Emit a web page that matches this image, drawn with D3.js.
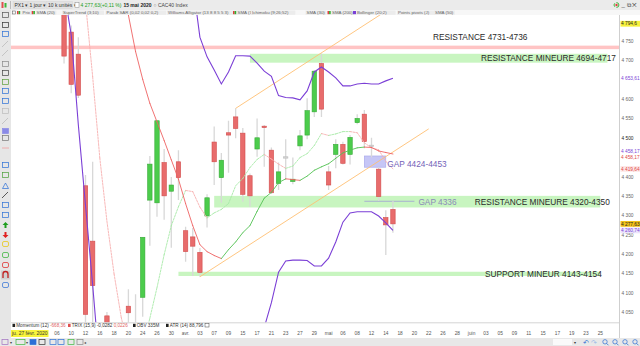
<!DOCTYPE html>
<html>
<head>
<meta charset="utf-8">
<title>CAC40 Index</title>
<script src="https://cdn.jsdelivr.net/npm/d3@7/dist/d3.min.js"></script>
<style>
  body { margin: 0; background: #fff; }
  svg { display: block; font-family: "Liberation Sans", Arial, sans-serif; }
  .pre { white-space: pre; }
</style>
</head>
<body>
<svg id="chart" width="640" height="346"></svg>
<script>
// ---- values (CAC40 daily, 27 Feb -> 15 May 2020) ----
const firstSession = '2020-02-27';
const lastSession = '2020-06-29';
const holidays = ['2020-04-10', '2020-04-13', '2020-05-01'];

const candleDates = [
  '2020-03-09', '2020-03-10', '2020-03-11', '2020-03-12', '2020-03-13',
  '2020-03-16', '2020-03-17', '2020-03-18', '2020-03-19', '2020-03-20',
  '2020-03-23', '2020-03-24', '2020-03-25', '2020-03-26', '2020-03-27',
  '2020-03-30', '2020-03-31', '2020-04-01', '2020-04-02', '2020-04-03',
  '2020-04-06', '2020-04-07', '2020-04-08', '2020-04-09',
  '2020-04-14', '2020-04-15', '2020-04-16', '2020-04-17',
  '2020-04-20', '2020-04-21', '2020-04-22', '2020-04-23', '2020-04-24',
  '2020-04-27', '2020-04-28', '2020-04-29', '2020-04-30',
  '2020-05-04', '2020-05-05', '2020-05-06', '2020-05-07', '2020-05-08',
  '2020-05-11', '2020-05-12', '2020-05-13', '2020-05-14', '2020-05-15'
];
const opens = [
  4900, 4773, 4716, 4376, 4233,
  3950, 4040, 3920, 3780, 4065,
  3960, 4088, 4339, 4332, 4436,
  4362, 4438, 4260, 4244, 4204,
  4298, 4489, 4397, 4513,
  4554, 4512, 4402, 4471,
  4530, 4468, 4382, 4451, 4387,
  4479, 4507, 4567, 4692,
  4412, 4457, 4483, 4457, 4539,
  4561, 4481, 4419, 4294, 4315
];
const highs = [
  4950, 4790, 4760, 4404, 4438,
  4000, 4050, 4010, 3990, 4109,
  4096, 4243, 4453, 4544, 4471,
  4399, 4468, 4270, 4267, 4215,
  4354, 4529, 4461, 4544,
  4576, 4525, 4408, 4550,
  4533, 4475, 4436, 4496, 4449,
  4520, 4602, 4675, 4718,
  4427, 4496, 4490, 4507, 4561,
  4572, 4500, 4424, 4313, 4337
];
const lows = [
  4692, 4615, 4603, 3952, 3900,
  3630, 3760, 3730, 3690, 3900,
  3800, 4038, 4221, 4296, 4288,
  4216, 4339, 4180, 4143, 4141,
  4268, 4378, 4332, 4410,
  4499, 4335, 4322, 4451,
  4425, 4355, 4365, 4391, 4380,
  4468, 4496, 4554, 4554,
  4365, 4421, 4431, 4431, 4535,
  4473, 4450, 4337, 4197, 4255
];
const closes = [
  4711, 4638, 4610, 4044, 4118,
  3881, 3991, 3754, 3855, 4048,
  3914, 4243, 4432, 4544, 4350,
  4378, 4397, 4206, 4220, 4152,
  4345, 4438, 4442, 4507,
  4524, 4354, 4350, 4500,
  4527, 4358, 4412, 4451, 4393,
  4505, 4570, 4672, 4574,
  4378, 4483, 4434, 4501, 4550,
  4490, 4481, 4348, 4275, 4277.63
];
// SMA (7)
const sma7 = [
  5251, 5155, 5043, 4850, 4658,
  4448, 4284, 4148, 4036, 3956,
  3937, 3955, 4034, 4113, 4198,
  4273, 4322, 4364, 4361, 4321,
  4293, 4306, 4315, 4330,
  4376, 4395, 4423, 4444,
  4457, 4445, 4432, 4421, 4427,
  4449, 4459, 4480, 4511,
  4506, 4510, 4516, 4516, 4513,
  4487, 4474, 4469, 4439, 4419.64
];
// SMA (20)
const sma20 = [
  5600, 5520, 5440, 5330, 5230,
  5160, 5090, 5026, 4916, 4817,
  4723, 4651, 4589, 4541, 4493,
  4443, 4393, 4330, 4273, 4224,
  4206, 4196, 4188, 4211,
  4231, 4255, 4273, 4310,
  4344, 4359, 4384, 4394, 4392,
  4390, 4401, 4416, 4425,
  4433, 4447, 4461, 4468, 4474,
  4476, 4475, 4466, 4462, 4458.17
];
// Bollinger (20;2)
const bollUpper = [
  6200, 6250, 6300, 6400, 6450,
  6500, 6520, 6530, 6480, 6400,
  6300, 6200, 6080, 5950, 5800,
  5600, 5300, 5050, 4900, 4760,
  4709, 4675, 4639, 4670,
  4712, 4712, 4711, 4693,
  4672, 4659, 4609, 4604, 4603,
  4598, 4621, 4670, 4683,
  4670, 4655, 4634, 4634, 4639,
  4641, 4639, 4639, 4647, 4653.61
];
const bollLower = [
  4880, 4766, 4533, 4326, 4120,
  3900, 3700, 3500, 3420, 3400,
  3360, 3350, 3370, 3400, 3430,
  3460, 3500, 3560, 3600, 3640,
  3690, 3730, 3760, 3790,
  3820, 3860, 3900, 3950,
  4010, 4074, 4153, 4182, 4184,
  4184, 4183, 4169, 4169,
  4189, 4231, 4282, 4306, 4309,
  4309, 4309, 4298, 4280, 4260.74
];

// channel lines (orange)
const channelUpperDates = ['2020-04-14', '2020-05-15'];
const channelUpper = [4576, 4839];
const channelLowerDates = ['2020-04-03', '2020-05-22'];
const channelLower = [4141, 4523];

// zones
const zoneLow = [4694, 4320, 4143];
const zoneHigh = [4717, 4350, 4154];
const zoneFrom = ['2020-04-16', '2020-04-07', '2020-03-31'];
const zoneTo = ['2020-06-26', '2020-06-25', '2020-06-25'];
const zoneLabels = ['RESISTANCE MINEURE 4694-4717', 'RESISTANCE MINEURE 4320-4350', 'SUPPORT  MINEUR 4143-4154'];
const resistance = [4731, 4736];
const gapBox = [4424, 4453];
const gapBoxDates = ['2020-05-11', '2020-05-14'];
const gapLine = 4336;
const gapLineDates = ['2020-05-11', '2020-05-20'];

// axes
const yTicks = [4050, 4100, 4150, 4200, 4250, 4300, 4350, 4400, 4500, 4550, 4600, 4700, 4750];
const tickDates = [
  '2020-03-06', '2020-03-10', '2020-03-12', '2020-03-16', '2020-03-18', '2020-03-20', '2020-03-24',
  '2020-03-26', '2020-03-30', '2020-04-01', '2020-04-03', '2020-04-07', '2020-04-09', '2020-04-15',
  '2020-04-17', '2020-04-21', '2020-04-23', '2020-04-27', '2020-04-29', '2020-05-04', '2020-05-06',
  '2020-05-08', '2020-05-12', '2020-05-14', '2020-05-18', '2020-05-20', '2020-05-22', '2020-05-26',
  '2020-05-28', '2020-06-01', '2020-06-03', '2020-06-05', '2020-06-09', '2020-06-11', '2020-06-15',
  '2020-06-17', '2020-06-19', '2020-06-23', '2020-06-25'
];
const tickLabels = [
  '06', '10', '12', '16', '18', '20', '24', '26', '30', 'avr.', '03', '07', '09', '15', '17', '21', '23',
  '27', '29', 'mai', '06', '08', '12', '14', '18', '20', '22', '26', '28', 'juin', '03', '05', '09', '11',
  '15', '17', '19', '23', '25'
];
const tagValues = [4794.6, 4653.61, 4458.17, 4458.17, 4419.64, 4277.63, 4260.74];
const tagTexts = ['4 794,6', '4 653,61', '4 458,17', '4 458,17', '4 419,64', '4 277,63', '4 260,74'];

const legendTop = ['Prix', 'SMA (20)', 'SuperTrend (3;10)', 'Parab SAR (0,02 0,02 0,2)', 'Williams Alligator (13 8 8 5 5 3)',
  'SMA (7)', 'Ichimoku (9;26;52)', 'SMA (30)', 'SMA (200)', 'Bollinger (20;2)', 'Points pivots (J)', 'SMA (50)'];

// ---- layout ----
const svg = d3.select('#chart');
const plot = { left: 11, right: 619, top: 15, bottom: 322.5 };
const purple = '#7b3fd6';

const sessions = d3.utcDay.range(new Date(firstSession), d3.utcDay.offset(new Date(lastSession), 1))
  .filter(d => d.getUTCDay() % 6 !== 0)
  .map(d3.utcFormat('%Y-%m-%d'))
  .filter(s => !holidays.includes(s));

const step = 7.15;
const x = d3.scalePoint().domain(sessions).range([14, 14 + (sessions.length - 1) * step]);
const y = d3.scaleLinear().domain([4050, 4750]).range([312, 41]);
const fr = d3.formatLocale({ decimal: ',', thousands: ' ', grouping: [3], currency: ['', ''] });

svg.append('rect').attr('width', 640).attr('height', 346).attr('fill', '#fff');

svg.append('clipPath').attr('id', 'clip').append('rect')
  .attr('x', plot.left).attr('y', plot.top)
  .attr('width', plot.right - plot.left).attr('height', plot.bottom - plot.top);

const g = svg.append('g').attr('clip-path', 'url(#clip)');

// resistance (pink)
g.append('rect')
  .attr('x', plot.left).attr('width', plot.right - plot.left)
  .attr('y', y(resistance[1]) - 0.8).attr('height', y(resistance[0]) - y(resistance[1]) + 1.6)
  .attr('fill', '#ffc4c4');

// zones (green)
zoneLow.forEach((lo, i) => {
  g.append('rect')
    .attr('x', x(zoneFrom[i])).attr('width', x(zoneTo[i]) - x(zoneFrom[i]))
    .attr('y', y(zoneHigh[i])).attr('height', y(lo) - y(zoneHigh[i]))
    .attr('fill', '#c8f5c0');
});

// gap box
g.append('rect')
  .attr('x', x(gapBoxDates[0])).attr('width', x(gapBoxDates[1]) - x(gapBoxDates[0]))
  .attr('y', y(gapBox[1])).attr('height', y(gapBox[0]) - y(gapBox[1]))
  .attr('fill', '#c6c6f6').attr('stroke', '#a4a4ea').attr('stroke-width', 0.6);

g.append('line')
  .attr('x1', x(gapLineDates[0])).attr('x2', x(gapLineDates[1]))
  .attr('y1', y(gapLine)).attr('y2', y(gapLine))
  .attr('stroke', '#a0a0d4').attr('stroke-width', 0.8);

// candles
const candles = candleDates.map((d, i) => ({ date: d, o: opens[i], h: highs[i], l: lows[i], c: closes[i] }));
g.append('g').selectAll('line').data(candles).join('line')
  .attr('x1', d => x(d.date)).attr('x2', d => x(d.date))
  .attr('y1', d => y(d.h)).attr('y2', d => y(d.l))
  .attr('stroke', '#d8d8d8').attr('stroke-width', 1.3);
g.append('g').selectAll('rect').data(candles).join('rect')
  .attr('x', d => x(d.date) - 2.2).attr('width', 4.4)
  .attr('y', d => y(Math.max(d.o, d.c)))
  .attr('height', d => Math.max(1.4, Math.abs(y(d.o) - y(d.c))))
  .attr('fill', d => d.c > d.o ? '#4ccc4c' : d.c < d.o ? '#e86c6c' : '#d2d2d2')
  .attr('stroke', d => d.c > d.o ? '#36aa36' : d.c < d.o ? '#d24c4c' : '#bdbdbd')
  .attr('stroke-width', 0.6);

// orange channel
[[channelUpperDates, channelUpper], [channelLowerDates, channelLower]].forEach(([ds, vs]) => {
  g.append('line')
    .attr('x1', x(ds[0])).attr('y1', y(vs[0]))
    .attr('x2', x(ds[1])).attr('y2', y(vs[1]))
    .attr('stroke', '#ffbf73').attr('stroke-width', 0.9);
});

// lines coloured by slope
function slopeLine(values, up, down, width, dash) {
  const pts = candleDates.map((d, i) => [x(d), y(values[i]), values[i]]);
  g.append('g').selectAll('line').data(d3.pairs(pts)).join('line')
    .attr('x1', d => d[0][0]).attr('y1', d => d[0][1])
    .attr('x2', d => d[1][0]).attr('y2', d => d[1][1])
    .attr('stroke', d => d[1][2] >= d[0][2] ? up : down)
    .attr('stroke-width', width)
    .attr('stroke-dasharray', dash)
    .attr('stroke-linecap', 'round');
}
slopeLine(sma7, '#a8eaa8', '#f7b0b0', 0.9, '2,1.2');
slopeLine(sma20, '#52c252', '#ee6262', 0.9, null);

const line = d3.line().x((d, i) => x(candleDates[i])).y(d => y(d));
[bollUpper, bollLower].forEach(vals => {
  g.append('path').datum(vals).attr('d', line)
    .attr('fill', 'none').attr('stroke', purple).attr('stroke-width', 1.1);
});

// annotation texts
const notes = svg.append('g').attr('font-size', 8.3).attr('class', 'pre');
notes.append('text').attr('x', 433).attr('y', 40).attr('fill', '#2a2a2a').text('RESISTANCE  4731-4736');
const zoneDx = [8.5, 9.5, 1.5];
zoneLabels.forEach((t, i) => {
  notes.append('text')
    .attr('x', x(zoneTo[i]) + zoneDx[i]).attr('y', y((zoneLow[i] + zoneHigh[i]) / 2) + 3)
    .attr('text-anchor', 'end').attr('fill', '#2a2a2a').text(t);
});
notes.append('text').attr('x', x(gapBoxDates[1]) + 1.5).attr('y', y((gapBox[0] + gapBox[1]) / 2) + 5)
  .attr('fill', '#7462b8').text(`GAP ${gapBox[0]}-${gapBox[1]}`);
notes.append('text').attr('x', x(gapLineDates[1]) + 4).attr('y', y(gapLine) + 3.8)
  .attr('fill', '#8a8ab8').text(`GAP ${gapLine}`);

// ---- right price axis ----
svg.append('line').attr('x1', plot.right + 0.5).attr('x2', plot.right + 0.5)
  .attr('y1', 10).attr('y2', 338).attr('stroke', '#cfcfcf');
const ax = svg.append('g').attr('transform', `translate(${plot.right + 0.5},0)`)
  .call(d3.axisRight(y).tickValues(yTicks).tickSize(0).tickPadding(2).tickFormat(fr.format(',')));
ax.select('.domain').remove();
ax.selectAll('text').attr('font-size', 4.8).attr('fill', '#666').attr('font-family', null);
ax.selectAll('.tick').filter(d => d === 4500).select('text').attr('fill', '#222');

// price tags
const tagColor = ['#222', purple, purple, '#e04848', '#e04848', '#222', purple];
const tagFill = ['#f6f13c', null, null, null, '#fde6e6', '#f2c21a', '#ebe4fb'];
let lastY = -10;
tagValues.forEach((v, i) => {
  let ty = y(v);
  if (ty < lastY + 5.6) ty = lastY + 5.6;
  if (i === 2) ty -= 2.4;
  lastY = ty;
  if (tagFill[i]) {
    svg.append('rect').attr('x', plot.right + 1.5).attr('y', ty - 2.9).attr('width', 20).attr('height', 5.8)
      .attr('fill', tagFill[i]);
  }
  svg.append('text').attr('x', plot.right + 2).attr('y', ty + 1.7)
    .attr('font-size', 4.8).attr('fill', tagColor[i]).text(tagTexts[i]);
});

// ---- bottom indicator legend & date axis ----
svg.append('line').attr('x1', plot.left).attr('x2', plot.right).attr('y1', plot.bottom + 0.3).attr('y2', plot.bottom + 0.3)
  .attr('stroke', '#d4d4d4');
const ind = svg.append('g').attr('font-size', 4.6).attr('fill', '#333');
const indItems = [
  [12.5, '#222', [['Momentum (12) ', '#333'], ['-668,36', '#e06464']]],
  [68, '#e05050', [['TRIX (15,9) -0,0282 ', '#333'], ['0,0226', '#e06464']]],
  [133, '#222', [['OBV 335M', '#333']]],
  [166, '#222', [['ATR (14) 88,796', '#333']]]
];
indItems.forEach(([ix, sq, parts]) => {
  ind.append('rect').attr('x', ix).attr('y', 323.8).attr('width', 2.6).attr('height', 3.2).attr('fill', sq);
  const t = ind.append('text').attr('x', ix + 3.8).attr('y', 327.3).attr('class', 'pre');
  parts.forEach(([s, c]) => t.append('tspan').attr('fill', c).text(s));
});
ind.append('rect').attr('x', 205).attr('y', 323.6).attr('width', 4).attr('height', 3.4)
  .attr('fill', '#fff').attr('stroke', '#444').attr('stroke-width', 0.5);

svg.append('rect').attr('x', 11).attr('y', 330).attr('width', 37.5).attr('height', 7).attr('fill', '#f8f43c');
svg.append('text').attr('x', 12).attr('y', 335.2).attr('font-size', 5).attr('fill', '#333')
  .text('ju. 27 févr. 2020');
svg.append('text').attr('x', 2).attr('y', 335).attr('font-size', 5).attr('fill', '#333').text('•••');
svg.append('g').selectAll('text').data(tickDates).join('text')
  .attr('x', d => x(d)).attr('y', 335.2).attr('text-anchor', 'middle')
  .attr('font-size', 4.8).attr('fill', '#555')
  .text((d, i) => tickLabels[i]);

// ---- window chrome ----
svg.append('rect').attr('width', 640).attr('height', 10).attr('fill', '#ebebeb');
svg.append('rect').attr('y', 10).attr('width', 640).attr('height', 5).attr('fill', '#f7f7f7');
svg.append('rect').attr('y', 10).attr('width', 11).attr('height', 328).attr('fill', '#e6e6e6');
svg.append('rect').attr('y', 338).attr('width', 640).attr('height', 8).attr('fill', '#e8e8e8');

const hdr = svg.append('g').attr('font-size', 5);
hdr.append('rect').attr('x', 1.5).attr('y', 2).attr('width', 2).attr('height', 6).attr('fill', '#e05050');
hdr.append('rect').attr('x', 4.5).attr('y', 3).attr('width', 2).attr('height', 4.5).attr('fill', '#3cb83c');
hdr.append('line').attr('x1', 10.5).attr('x2', 10.5).attr('y1', 1).attr('y2', 9).attr('stroke', '#bbb');
[[13, 'PX1 ▾', 14.5], [28, '1 jour ▾', 17.5], [46.5, '10 k unités ▾', 26]].forEach(([hx, t, w]) => {
  hdr.append('rect').attr('x', hx).attr('y', 1.5).attr('width', w).attr('height', 7)
    .attr('fill', '#e2e2e2').attr('stroke', '#d0d0d0').attr('stroke-width', 0.4);
  hdr.append('text').attr('x', hx + 1.5).attr('y', 6.9).attr('fill', '#333').text(t);
});
hdr.append('rect').attr('x', 75).attr('y', 2.5).attr('width', 4).attr('height', 5)
  .attr('fill', '#fff').attr('stroke', '#888').attr('stroke-width', 0.5);
// price, date and name laid out one after the other
let hx = 80.5;
[['4 277,63(+0,11 %)', '#1a9e1a', 'normal'], ['15 mai 2020', '#222', 'bold'], ['○ CAC40 Index', '#444', 'normal']]
  .forEach(([t, c, w]) => {
    const node = hdr.append('text').attr('x', hx).attr('y', 6.9).attr('fill', c)
      .attr('font-weight', w).attr('class', 'pre').text(t);
    hx += node.node().getComputedTextLength() + 2;
  });
hdr.append('circle').attr('cx', 616.5).attr('cy', 5).attr('r', 2.4).attr('fill', 'none')
  .attr('stroke', '#3cb83c').attr('stroke-width', 1).attr('stroke-dasharray', '3.5,1.5');
hdr.append('circle').attr('cx', 616.5).attr('cy', 5).attr('r', 1.2).attr('fill', '#e04040');
hdr.append('text').attr('x', 621.5).attr('y', 7.3).attr('fill', '#444').attr('font-size', 6).text('_ ⧉ ✕');

// indicator legend strip
const leg = svg.append('g').attr('font-size', 4.4).attr('fill', '#666');
const legX = [22.5, 36.5, 63, 106.5, 168, 237.5, 252, 306.5, 332, 357, 398, 435];
legendTop.forEach((t, i) => {
  const w = t.length * 2.35;
  leg.append('rect').attr('x', legX[i] - 1).attr('y', 10.6).attr('width', w + 2).attr('height', 4.2)
    .attr('fill', '#ececec');
  leg.append('text').attr('x', legX[i]).attr('y', 13.9).text(t);
});
[[17, 'rg'], [31.7, 'rg'], [233, 'rg'], [327.5, 'rg'], [353, 'p']].forEach(([lx, k]) => {
  if (k === 'p') {
    leg.append('rect').attr('x', lx).attr('y', 11).attr('width', 3).attr('height', 3.2).attr('fill', purple);
  } else {
    leg.append('rect').attr('x', lx).attr('y', 11).attr('width', 1.6).attr('height', 3.2).attr('fill', '#e04040');
    leg.append('rect').attr('x', lx + 1.6).attr('y', 11).attr('width', 1.6).attr('height', 3.2).attr('fill', '#30b030');
  }
});
leg.append('rect').attr('x', 12.5).attr('y', 11).attr('width', 3).attr('height', 3)
  .attr('fill', 'none').attr('stroke', '#555').attr('stroke-width', 0.5);

// left tool icons
const tools = svg.append('g');
const toolY = [15, 25, 34, 44, 53, 64, 73, 82, 91, 101, 111, 121, 131, 138, 148, 165, 175, 186, 195, 205, 215, 225, 235, 244, 255, 265, 275, 285];
const toolC = ['#555', '#333', '#2b6fd6', '#bbb', '#bbb', '#888', '#444', '#5a9e3a', '#2b6fd6', '#2b6fd6', '#bbb', '#bbb', '#8a8ae6', '#777',
  '#f0a0a0', '#2b6fd6', '#4a9e3a', '#2b6fd6', '#333', '#2b6fd6', '#2b6fd6', '#1e9e1e', '#e02020', '#e8c400', '#2fb02f', '#e02020', '#c02020', '#2b6fd6'];
toolY.forEach((ty, i) => {
  const c = toolC[i];
  if (i === 3 || i === 4 || i === 11 || i === 18) {
    tools.append('line').attr('x1', 2).attr('y1', ty + 3).attr('x2', 8).attr('y2', ty - 3)
      .attr('stroke', c).attr('stroke-width', 0.8);
  } else if (i === 14) {
    tools.append('line').attr('x1', 2).attr('y1', ty).attr('x2', 9).attr('y2', ty).attr('stroke', c).attr('stroke-width', 0.8);
  } else if (i === 21) {
    tools.append('path').attr('d', `M5.5,${ty - 3}L8.5,${ty}L6.5,${ty}L6.5,${ty + 3}L4.5,${ty + 3}L4.5,${ty}L2.5,${ty}Z`).attr('fill', c);
  } else if (i === 22) {
    tools.append('path').attr('d', `M5.5,${ty + 3}L8.5,${ty}L6.5,${ty}L6.5,${ty - 3}L4.5,${ty - 3}L4.5,${ty}L2.5,${ty}Z`).attr('fill', c);
  } else if (i === 17) {
    tools.append('path').attr('d', `M5.5,${ty - 3}L8.5,${ty + 2.5}L2.5,${ty + 2.5}Z`).attr('fill', 'none')
      .attr('stroke', c).attr('stroke-width', 0.7);
  } else if (i === 26) {
    tools.append('rect').attr('x', 1).attr('y', ty - 4.5).attr('width', 9).attr('height', 9).attr('fill', '#d0d0d0');
    tools.append('path').attr('d', `M3,${ty + 3}L3,${ty - 1}A2.5,2.5 0 0 1 8,${ty - 1}L8,${ty + 3}`)
      .attr('fill', 'none').attr('stroke', c).attr('stroke-width', 1.3);
  } else {
    tools.append('rect').attr('x', 2.5).attr('y', ty - 2.5).attr('width', 6).attr('height', 5)
      .attr('fill', i === 12 ? c : 'none').attr('stroke', c).attr('stroke-width', 0.7)
      .attr('rx', i > 22 ? 1.5 : 0);
  }
});

// bottom toolbar
const bt = svg.append('g');
const btX = [2, 16, 30, 39, 50, 58, 68, 77];
const btC = ['#a070c0', '#3cb83c', '#2b6fd6', '#333', '#2b6fd6', '#2b6fd6', '#3cb83c', '#888'];
btX.forEach((bx, i) => {
  bt.append('rect').attr('x', bx).attr('y', 339.5).attr('width', i === 1 ? 9 : 6).attr('height', 5)
    .attr('fill', i === 2 ? btC[i] : 'none').attr('stroke', btC[i]).attr('stroke-width', 0.7);
});
bt.append('text').attr('x', 10).attr('y', 344).attr('font-size', 4).attr('fill', '#444').text('▾');
bt.append('text').attr('x', 26).attr('y', 344).attr('font-size', 4).attr('fill', '#444').text('▾');
bt.append('text').attr('x', 84).attr('y', 344).attr('font-size', 4).attr('fill', '#444').text('◂');
bt.append('rect').attr('x', 553).attr('y', 339).attr('width', 19).attr('height', 6).attr('fill', '#fafafa');
bt.append('text').attr('x', 573.5).attr('y', 344).attr('font-size', 4).attr('fill', '#333').text('▾');
[[583, '↶'], [591, '↷']].forEach(([bx, t], i) => {
  bt.append('text').attr('x', bx).attr('y', 344.8).attr('font-size', 7).attr('fill', i ? '#9ab8e8' : '#2b6fd6').text(t);
});
[602, 612, 622, 632].forEach(bx => {
  bt.append('circle').attr('cx', bx + 3).attr('cy', 341.8).attr('r', 2.2).attr('fill', 'none')
    .attr('stroke', '#2b6fd6').attr('stroke-width', 0.7);
  bt.append('line').attr('x1', bx + 4.6).attr('y1', 343.4).attr('x2', bx + 6.5).attr('y2', 345.3)
    .attr('stroke', '#2b6fd6').attr('stroke-width', 0.8);
});
</script>
</body>
</html>
